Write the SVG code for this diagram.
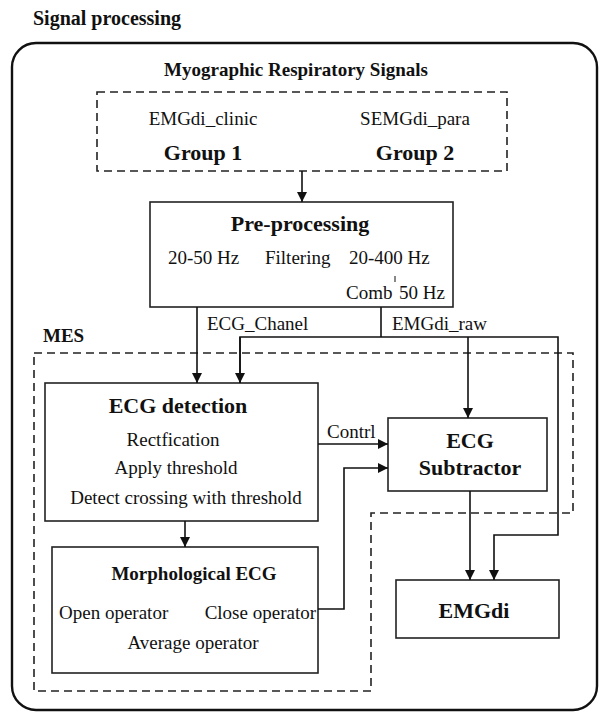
<svg xmlns="http://www.w3.org/2000/svg" width="600" height="713" viewBox="0 0 600 713" font-family="'Liberation Serif', 'DejaVu Serif', serif">
<style>
text{font-family:'Liberation Serif','DejaVu Serif',serif;fill:#111}
.r{font-size:19px}
.b{font-size:22px;font-weight:bold}
.bs{font-size:19px;font-weight:bold}
.m{text-anchor:middle}
.box{fill:#fff;stroke:#222;stroke-width:1.6}
.dash{fill:none;stroke:#222;stroke-width:1.6;stroke-dasharray:8,5}
.c{fill:none;stroke:#111;stroke-width:1.6}
</style>
<defs>
<marker id="ah" viewBox="0 0 10 10" refX="10" refY="5" markerWidth="10" markerHeight="10" markerUnits="userSpaceOnUse" orient="auto">
<path d="M0,0 L10,5 L0,10 z" fill="#111"/>
</marker>
</defs>
<rect width="600" height="713" fill="#fff"/>
<text x="33" y="25" class="b" style="font-size:20px">Signal processing</text>
<rect x="12" y="43" width="585" height="667" rx="24" fill="none" stroke="#111" stroke-width="2.4"/>
<text x="296" y="76" class="bs m">Myographic Respiratory Signals</text>

<g id="groups">
<rect x="97" y="92" width="410" height="79" class="dash"/>
<text x="203" y="125" class="r m">EMGdi_clinic</text>
<text x="203" y="160" class="b m">Group 1</text>
<text x="415" y="125" class="r m">SEMGdi_para</text>
<text x="415" y="160" class="b m">Group 2</text>
</g>

<g id="preprocessing">
<rect x="150" y="202" width="303" height="105" class="box"/>
<text x="300" y="231" class="b m">Pre-processing</text>
<text x="168" y="264" class="r">20-50 Hz</text>
<text x="265" y="264" class="r">Filtering</text>
<text x="349" y="264" class="r">20-400 Hz</text>
<text x="346" y="299" class="r">Comb</text>
<line x1="395" y1="276" x2="395" y2="282" stroke="#111" stroke-width="1"/>
<text x="399" y="299" class="r">50 Hz</text>
</g>

<g id="mes">
<path d="M34,353 H573 V513 H371 V691 H34 Z" class="dash"/>
<text x="43" y="342" class="bs">MES</text>
</g>

<g id="ecg-detection">
<rect x="45" y="383" width="273" height="138" class="box"/>
<text x="178" y="413" class="b m">ECG detection</text>
<text x="173" y="446" class="r m">Rectfication</text>
<text x="176" y="474" class="r m">Apply threshold</text>
<text x="186" y="504" class="r m">Detect crossing with threshold</text>
</g>

<g id="morphological-ecg">
<rect x="52" y="547" width="266" height="126" class="box"/>
<text x="194" y="580" class="bs m">Morphological ECG</text>
<text x="59" y="619" class="r">Open operator</text>
<text x="316" y="619" class="r" text-anchor="end">Close operator</text>
<text x="193" y="649" class="r m">Average operator</text>
</g>

<g id="ecg-subtractor">
<rect x="388" y="418" width="159" height="73" class="box"/>
<text x="470" y="448" class="b m">ECG</text>
<text x="470" y="475" class="b m">Subtractor</text>
</g>

<g id="emgdi">
<rect x="396" y="580" width="163" height="58" class="box"/>
<text x="474" y="618" class="b m">EMGdi</text>
</g>

<g id="connectors">
<line x1="302" y1="171" x2="302" y2="202" class="c" marker-end="url(#ah)"/>
<line x1="197" y1="307" x2="197" y2="383" class="c" marker-end="url(#ah)"/>
<text x="207" y="330" class="r">ECG_Chanel</text>
<line x1="381" y1="307" x2="381" y2="337" class="c"/>
<text x="392" y="330" class="r">EMGdi_raw</text>
<path d="M240,383 V337 H558 V535 H494 V580" class="c" marker-end="url(#ah)"/>
<line x1="240" y1="337" x2="240" y2="383" class="c" marker-end="url(#ah)"/>
<line x1="468" y1="337" x2="468" y2="418" class="c" marker-end="url(#ah)"/>
<line x1="318" y1="444" x2="388" y2="444" class="c" marker-end="url(#ah)"/>
<text x="327" y="438" class="r">Contrl</text>
<path d="M318,609 H344 V468 H388" class="c" marker-end="url(#ah)"/>
<line x1="185" y1="521" x2="185" y2="547" class="c" marker-end="url(#ah)"/>
<line x1="470" y1="491" x2="470" y2="580" class="c" marker-end="url(#ah)"/>
</g>
</svg>
